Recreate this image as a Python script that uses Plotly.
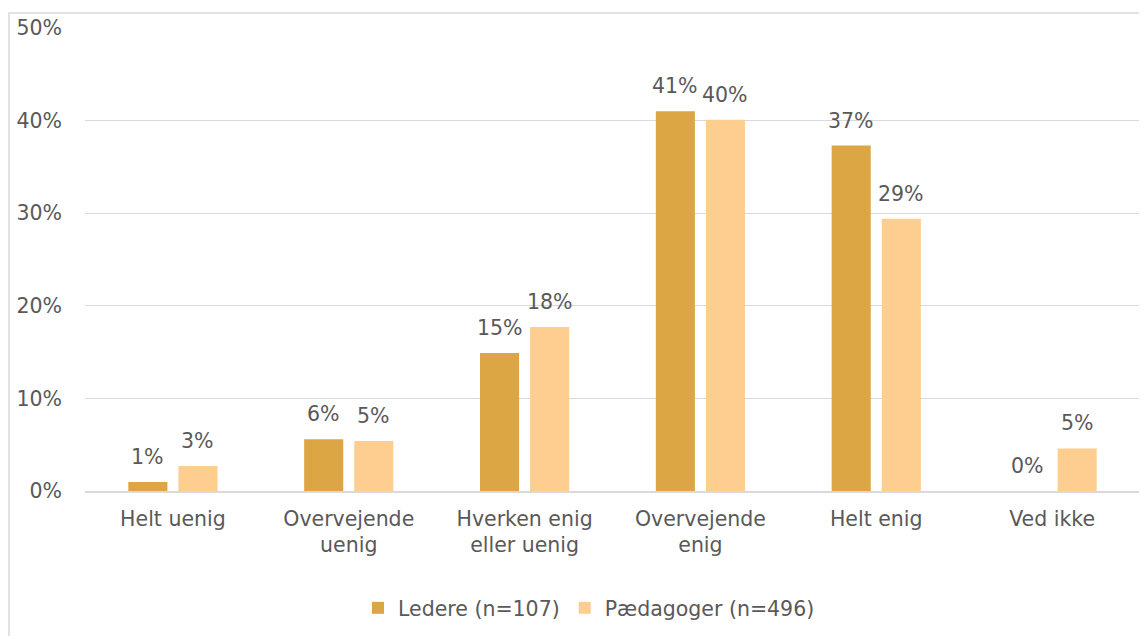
import plotly.graph_objects as go

categories = ["Helt uenig", "Overvejende<br>uenig", "Hverken enig<br>eller uenig",
              "Overvejende<br>enig", "Helt enig", "Ved ikke"]
ledere = [0.0097, 0.056, 0.149, 0.410, 0.373, 0.0]
paedagoger = [0.027, 0.054, 0.177, 0.401, 0.294, 0.046]
series_names = ["Ledere (n=107)", "Pædagoger (n=496)"]
colors = ["#DDA645", "#FDCE90"]
yticks = [0, 0.1, 0.2, 0.3, 0.4, 0.5]

FONT = "DejaVu Sans"
TXT = "#595959"
FS = 20.5

fig = go.Figure()
for name, vals, col in zip(series_names, [ledere, paedagoger], colors):
    fig.add_trace(go.Bar(
        x=categories, y=vals, name=name, marker_color=col,
        marker_line_width=0, hoverinfo="x+y+name",
    ))

# page body has an 8px margin; figure coordinates = screen - 8
OFF = 8
W, H = 1139, 628
L, R, T, B = 77, 7, 20, 145
pw, ph = W - L - R, H - T - B
cat_w = pw / len(categories)
BARGAP, GROUPGAP = 0.43, 0.22
slot = cat_w * (1 - BARGAP) / 2

def px(x):
    return (x - OFF - L) / pw

def py(y):
    return (H - B - (y - OFF)) / ph

annotations = []
for i, vals in enumerate([ledere, paedagoger]):
    shift = (i - 0.5) * slot
    for c, v in zip(categories, vals):
        annotations.append(dict(
            x=c, y=v, xref="x", yref="y", text=f"{v:.0%}", showarrow=False,
            xanchor="center", yanchor="bottom", xshift=shift, yshift=11,
            font=dict(family=FONT, size=FS, color=TXT),
        ))

fig.update_layout(
    width=W, height=H,
    margin=dict(l=L, r=R, t=T, b=B, autoexpand=False),
    paper_bgcolor="white", plot_bgcolor="white",
    barmode="group", bargap=BARGAP, bargroupgap=GROUPGAP,
    font=dict(family=FONT, size=FS, color=TXT),
    showlegend=True,
    legend=dict(orientation="h", x=px(589), xanchor="center", y=py(608), yanchor="middle",
                font=dict(family=FONT, size=FS, color=TXT),
                itemwidth=30, tracegroupgap=0),
    annotations=annotations,
    shapes=[dict(type="rect", xref="paper", yref="paper",
                 x0=px(9), x1=px(1160), y0=py(660), y1=py(13),
                 line=dict(color="#D9D9D9", width=1.5), fillcolor="rgba(0,0,0,0)", layer="below")],
)
fig.update_yaxes(range=[0, 0.5], tickvals=yticks, tickformat=".0%",
                 showgrid=True, gridcolor="#D9D9D9", gridwidth=1,
                 zeroline=False, showline=False, ticks="",
                 ticklabelstandoff=22,
                 tickfont=dict(family=FONT, size=FS, color=TXT))
fig.update_xaxes(showline=True, linecolor="#D9D9D9", linewidth=2, ticks="",
                 ticklabelstandoff=8,
                 tickfont=dict(family=FONT, size=FS, color=TXT))

fig.write_html("out.html")
